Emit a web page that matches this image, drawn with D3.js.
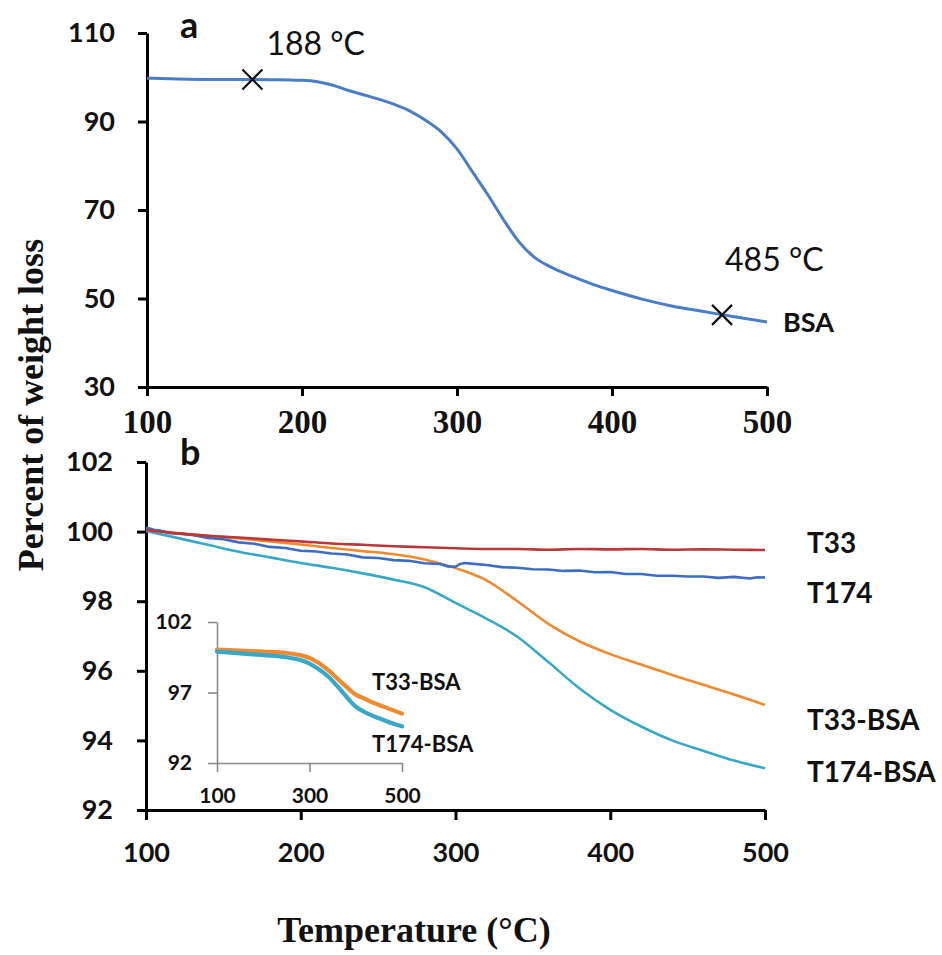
<!DOCTYPE html>
<html><head><meta charset="utf-8">
<script src="https://cdn.jsdelivr.net/npm/d3@7"></script>
<style>html,body{margin:0;padding:0;background:#fff;}</style>
</head><body>
<script>
// ---------- DATA ----------
// Panel a: BSA
const bsaTemp = [100,120,140,160,180,200,210,220,230,240,250,260,270,280,290,300,310,320,330,340,350,360,370,380,390,400,420,440,460,480,500];
const bsaVal  = [99.8,99.6,99.5,99.5,99.45,99.3,99.0,98.2,97.0,96.0,95.0,93.8,92.3,90.2,87.6,83.8,78.6,73.4,67.8,62.8,59.3,57.2,55.6,54.2,52.9,51.8,49.8,48.2,47.0,45.8,44.7];
const bsaMarkers = [{t:168, v:99.5, label:"188 \u00B0C"}, {t:471, v:46.3, label:"485 \u00B0C"}];
const aXTicks = [100,200,300,400,500];
const aYTicks = [30,50,70,90,110];

// Panel b
const bXTicks = [100,200,300,400,500];
const bYTicks = [92,94,96,98,100,102];
const t33Temp = [100,120,140,160,180,200,220,240,260,280,300,320,340,360,380,400,420,440,460,480,500];
const t33Val  = [100.05,99.95,99.88,99.83,99.77,99.72,99.66,99.62,99.58,99.55,99.52,99.5,99.5,99.48,99.5,99.49,99.5,99.48,99.49,99.48,99.47];
const t174Temp = [100,105,110,115,120,130,140,150,160,170,180,190,200,210,220,230,240,250,260,270,280,290,295,300,303,306,310,320,330,340,350,360,370,380,390,400,410,420,430,440,450,460,470,480,490,495,500];
const t174Val  = [100.12,100.05,100.02,99.96,99.95,99.9,99.82,99.78,99.69,99.65,99.56,99.53,99.45,99.43,99.37,99.34,99.26,99.24,99.18,99.16,99.09,99.07,99.0,98.99,99.07,99.1,99.08,99.04,98.98,98.96,98.92,98.91,98.87,98.88,98.83,98.84,98.78,98.78,98.73,98.73,98.71,98.71,98.67,98.7,98.65,98.69,98.68];
const t33bsaTemp = [100,120,140,160,180,200,220,240,260,280,300,320,340,360,380,400,420,440,460,480,500];
const t33bsaVal  = [100.05,99.96,99.88,99.8,99.72,99.63,99.53,99.44,99.35,99.2,98.95,98.6,98.0,97.35,96.85,96.48,96.18,95.88,95.6,95.32,95.02];
const t174bsaTemp = [100,120,140,160,180,200,220,240,260,280,300,320,340,360,380,400,420,440,460,480,500];
const t174bsaVal  = [100.02,99.82,99.62,99.42,99.26,99.1,98.96,98.8,98.62,98.4,97.95,97.5,96.98,96.25,95.5,94.88,94.4,94.0,93.7,93.42,93.2];
const seriesNames = ["T33","T174","T33-BSA","T174-BSA"];
const seriesColors = ["#b8383b","#3d6dc2","#f08a30","#38a8c6"];
// label anchor values (data units, at right end)
const seriesLabelY = [99.39,97.95,94.3,92.8];

// Inset
const insXTicks = [100,300,500];
const insYTicks = [92,97,102];
const insTemp = [100,150,200,250,280,300,320,340,360,380,400,420,440,460,480,500];
const insT33bsa  = [100.05,99.98,99.9,99.8,99.65,99.45,99.1,98.6,98.0,97.4,96.85,96.55,96.25,96.0,95.75,95.5];
const insT174bsa = [99.9,99.78,99.65,99.5,99.3,99.05,98.65,98.15,97.45,96.7,96.0,95.6,95.3,95.05,94.8,94.6];
const insNames = ["T33-BSA","T174-BSA"];
const insLabelY = [97.2,92.75];

// ---------- DRAW ----------
const W = 942, H = 955;
const svg = d3.select("body").append("svg").attr("width", W).attr("height", H)
  .style("background","#fff");

const SANS = "Lato, 'Open Sans', sans-serif";
const SERIF = "'Liberation Serif', 'Times New Roman', serif";

function styleAxis(g, width, color, font, size, weight) {
  g.select(".domain").attr("stroke", color).attr("stroke-width", width);
  g.selectAll(".tick line").attr("stroke", color).attr("stroke-width", width);
  g.selectAll(".tick text").attr("fill", "#111").style("font-family", font)
    .style("font-size", size + "px").style("font-weight", weight);
}

// Panel a
const xA = d3.scaleLinear().domain([100,500]).range([147,767]);
const yA = d3.scaleLinear().domain([30,110]).range([387,33]);

const gAx = svg.append("g").attr("transform", `translate(0,${yA(30)})`)
  .call(d3.axisBottom(xA).tickValues(aXTicks).tickSizeInner(9).tickSizeOuter(0).tickPadding(14));
styleAxis(gAx, 3, "#000", SERIF, 33, "bold");
const gAy = svg.append("g").attr("transform", `translate(${xA(100)},0)`)
  .call(d3.axisLeft(yA).tickValues(aYTicks).tickSizeInner(9).tickSizeOuter(0).tickPadding(23));
styleAxis(gAy, 3, "#000", SANS, 27, "bold");

const lineA = d3.line().x((d,i)=>xA(bsaTemp[i])).y(d=>yA(d)).curve(d3.curveMonotoneX);
svg.append("path").datum(bsaVal).attr("d", lineA).attr("fill","none")
  .attr("stroke","#4a7dc6").attr("stroke-width",3);

const xs = 10;
bsaMarkers.forEach(m => {
  const cx = xA(m.t), cy = yA(m.v);
  svg.append("path").attr("d", `M${cx-xs},${cy-xs}L${cx+xs},${cy+xs}M${cx-xs},${cy+xs}L${cx+xs},${cy-xs}`)
    .attr("stroke","#111").attr("stroke-width",2.2).attr("fill","none");
});
svg.append("text").attr("x", xA(bsaMarkers[0].t)+14).attr("y", yA(bsaMarkers[0].v)-24)
  .text(bsaMarkers[0].label).style("font-family",SANS).style("font-size","32px").attr("fill","#111");
svg.append("text").attr("x", xA(bsaMarkers[1].t)+3).attr("y", yA(bsaMarkers[1].v)-44)
  .text(bsaMarkers[1].label).style("font-family",SANS).style("font-size","32px").attr("fill","#111");
svg.append("text").attr("x", xA(500)+16).attr("y", yA(bsaVal[bsaVal.length-1])+10)
  .text("BSA").style("font-family",SANS).style("font-size","27px").style("font-weight","bold").attr("fill","#111");
svg.append("text").attr("x", 180).attr("y", 38).text("a")
  .style("font-family",SANS).style("font-size","36px").style("font-weight","bold").attr("fill","#111");

// Panel b
const xB = d3.scaleLinear().domain([100,500]).range([146,765]);
const yB = d3.scaleLinear().domain([92,102]).range([810,462]);

const gBx = svg.append("g").attr("transform", `translate(0,${yB(92)})`)
  .call(d3.axisBottom(xB).tickValues(bXTicks).tickSizeInner(10).tickSizeOuter(0).tickPadding(23));
styleAxis(gBx, 3, "#000", SANS, 27, "bold");
const gBy = svg.append("g").attr("transform", `translate(${xB(100)},0)`)
  .call(d3.axisLeft(yB).tickValues(bYTicks).tickSizeInner(9).tickSizeOuter(0).tickPadding(24));
styleAxis(gBy, 3, "#000", SANS, 27, "bold");

const bTemps = [t33Temp, t174Temp, t33bsaTemp, t174bsaTemp];
const bVals = [t33Val, t174Val, t33bsaVal, t174bsaVal];
[3,2,1,0].forEach(k => {
  const ln = d3.line().x((d,i)=>xB(bTemps[k][i])).y(d=>yB(d))
    .curve(k===1 ? d3.curveLinear : d3.curveMonotoneX);
  svg.append("path").datum(bVals[k]).attr("d", ln).attr("fill","none")
    .attr("stroke", seriesColors[k]).attr("stroke-width", 2.6).attr("stroke-linejoin","round");
});
seriesNames.forEach((n,k) => {
  svg.append("text").attr("x", xB(500)+42).attr("y", yB(seriesLabelY[k]))
    .text(n).style("font-family",SANS).style("font-size","28px").style("font-weight","bold").attr("fill","#111");
});
svg.append("text").attr("x", 180).attr("y", 465).text("b")
  .style("font-family",SANS).style("font-size","36px").style("font-weight","bold").attr("fill","#111");

// Inset
const xI = d3.scaleLinear().domain([100,500]).range([217,402]);
const yI = d3.scaleLinear().domain([92,102]).range([763,622]);
const gIx = svg.append("g").attr("transform", `translate(0,${yI(92)})`)
  .call(d3.axisBottom(xI).tickValues(insXTicks).tickSizeInner(9).tickSizeOuter(0).tickPadding(16));
styleAxis(gIx, 1.6, "#8a8a8a", SANS, 21, "bold");
const gIy = svg.append("g").attr("transform", `translate(${xI(100)},0)`)
  .call(d3.axisLeft(yI).tickValues(insYTicks).tickSizeInner(9).tickSizeOuter(0).tickPadding(16));
styleAxis(gIy, 1.6, "#8a8a8a", SANS, 21, "bold");

const insVals = [insT33bsa, insT174bsa];
const insColors = [seriesColors[2], seriesColors[3]];
[0,1].forEach(k => {
  const ln = d3.line().x((d,i)=>xI(insTemp[i])).y(d=>yI(d)).curve(d3.curveMonotoneX);
  svg.append("path").datum(insVals[k]).attr("d", ln).attr("fill","none")
    .attr("stroke", insColors[k]).attr("stroke-width", 4.2).attr("stroke-linecap","round");
});
insNames.forEach((n,k) => {
  svg.append("text").attr("x", xI(500)-30).attr("y", yI(insLabelY[k]))
    .text(n).style("font-family",SANS).style("font-size","22px").style("font-weight","bold").attr("fill","#111");
});

// Axis titles
svg.append("text").attr("transform","translate(43,405) rotate(-90)").attr("text-anchor","middle")
  .text("Percent of weight loss").style("font-family",SERIF).style("font-size","36px")
  .style("font-weight","bold").attr("fill","#111");
svg.append("text").attr("x", 414).attr("y", 942).attr("text-anchor","middle")
  .text("Temperature (\u00B0C)").style("font-family",SERIF).style("font-size","36px")
  .style("font-weight","bold").attr("fill","#111");
</script>
</body></html>
